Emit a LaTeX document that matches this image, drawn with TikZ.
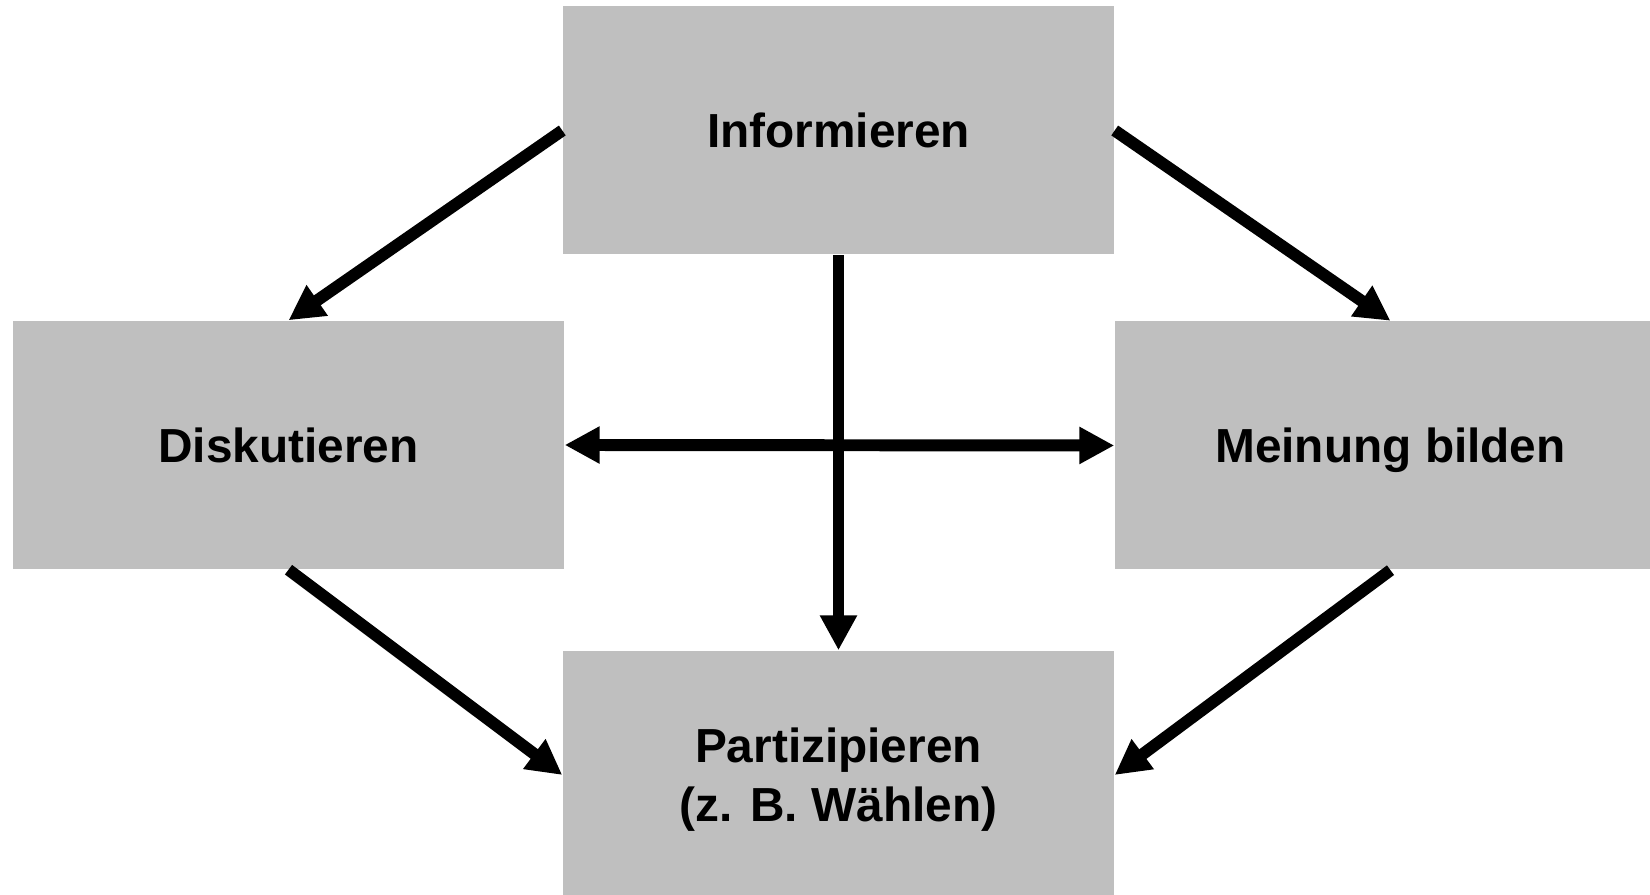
\documentclass[tikz,border=0pt]{standalone}
\usepackage{fontspec}
\setmainfont{Liberation Sans}
\usetikzlibrary{arrows.meta}
\definecolor{boxgray}{RGB}{191,191,191}
\begin{document}
\begin{tikzpicture}[
		feld/.style={fill=boxgray, minimum width=5.51cm, minimum height=2.48cm, inner sep=0pt, text depth=0pt, align=center, font=\fontsize{13.6}{16.8}\selectfont\bfseries},
		pfeil/.style={line width=3.4pt, -{Triangle[length=0.35cm, width=0.35cm]}}
	]
	\useasboundingbox (0,0) rectangle (16.5,8.95);
	\node[feld] (info) at (8.385,7.645) {Informieren};
	\node[feld] (disk) at (2.885,4.50) {Diskutieren};
	\node[feld] (mein) at (13.905,4.495) {Meinung bilden};
	\node[feld] (part) at (8.385,1.20) {Partizipieren\\(z. B. Wählen)};
	\draw[pfeil] (info.west) -- (disk.north);
	\draw[pfeil] (info.east) -- (mein.north);
	\draw[pfeil] (info.south) -- (part.north);
	\draw[pfeil] (disk.south) -- (part.west);
	\draw[pfeil] (mein.south) -- (part.east);
	\draw[pfeil, {Triangle[length=0.35cm, width=0.35cm]}-{Triangle[length=0.35cm, width=0.35cm]}] (disk.east) -- (mein.west);
\end{tikzpicture}
\end{document}
